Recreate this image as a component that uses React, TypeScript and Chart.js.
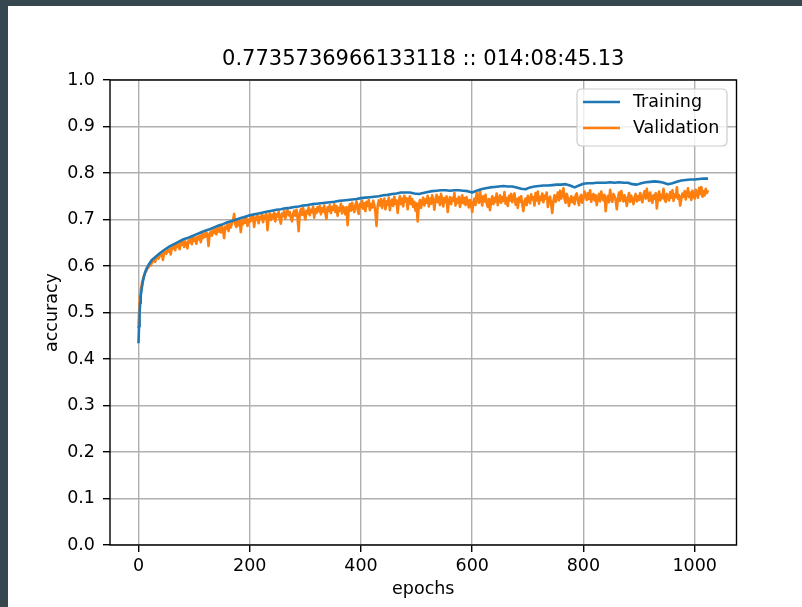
import React, { useEffect, useRef } from "react";
import { Chart, registerables } from "chart.js";

Chart.register(...registerables);

const TITLE = "0.7735736966133118 :: 014:08:45.13";
const X_LABEL = "epochs";
const Y_LABEL = "accuracy";
const X_TICKS = [0, 200, 400, 600, 800, 1000];
const Y_TICKS = [0, 0.1, 0.2, 0.3, 0.4, 0.5, 0.6, 0.7, 0.8, 0.9, 1.0];
const SERIES_NAMES = ["Training", "Validation"];
const SERIES_COLORS = ["#1f77b4", "#ff7f0e"];

// Training accuracy: early epochs listed explicitly, then every 8 epochs from epoch 32
const trainEarlyEpochs = [0, 1, 2, 3, 4, 6, 8, 10, 13, 16, 20, 24];
const trainEarlyAcc = [0.434, 0.47, 0.5, 0.52, 0.535, 0.553, 0.567, 0.578, 0.59, 0.598, 0.606, 0.613];
const trainStartEpoch = 32;
const trainStep = 8;
const trainAcc = [
  0.621, 0.629, 0.636, 0.642, 0.647, 0.652, 0.657, 0.66,
  0.664, 0.668, 0.672, 0.676, 0.679, 0.683, 0.687, 0.69,
  0.694, 0.697, 0.7, 0.703, 0.706, 0.709, 0.711, 0.713,
  0.715, 0.717, 0.719, 0.721, 0.722, 0.724, 0.725, 0.727,
  0.728, 0.73, 0.731, 0.733, 0.734, 0.735, 0.736, 0.737,
  0.738, 0.74, 0.741, 0.742, 0.743, 0.744, 0.746, 0.747,
  0.748, 0.749, 0.75, 0.752, 0.753, 0.755, 0.756, 0.758,
  0.758, 0.758, 0.756, 0.755, 0.757, 0.759, 0.761, 0.762,
  0.763, 0.763, 0.762, 0.763, 0.763, 0.762, 0.761, 0.758,
  0.762, 0.765, 0.767, 0.769, 0.77, 0.771, 0.772, 0.771,
  0.771, 0.769, 0.766, 0.765, 0.769, 0.771, 0.772, 0.773,
  0.773, 0.774, 0.775, 0.775, 0.776, 0.773, 0.769, 0.773,
  0.777, 0.778, 0.778, 0.779, 0.779, 0.779, 0.78, 0.779,
  0.78, 0.779, 0.779, 0.776, 0.775, 0.778, 0.78, 0.781,
  0.782, 0.781, 0.779, 0.776, 0.778, 0.781, 0.784, 0.785,
  0.786, 0.786, 0.787, 0.788, 0.788,
];

// Validation accuracy: early epochs explicitly, then every 2 epochs from epoch 24
const valEarlyEpochs = [0, 1, 2, 3, 4, 5, 6, 8, 10, 12, 14, 16, 18, 20, 22];
const valEarlyAcc = [0.467, 0.5, 0.522, 0.538, 0.548, 0.556, 0.562, 0.572, 0.579, 0.586, 0.589, 0.595, 0.597, 0.603, 0.601];
const valStartEpoch = 24;
const valStep = 2;
const valAcc = [
  0.607, 0.611, 0.614, 0.609, 0.618, 0.62, 0.616, 0.624, 0.622, 0.627, 0.613, 0.629, 0.631, 0.626, 0.634, 0.631, 0.637, 0.625, 0.64, 0.638, 0.643, 0.634, 0.645, 0.641, 0.647,
  0.636, 0.65, 0.646, 0.652, 0.641, 0.653, 0.648, 0.638, 0.655, 0.651, 0.658, 0.647, 0.66, 0.654, 0.661, 0.648, 0.663, 0.657, 0.665, 0.651, 0.668, 0.66, 0.67, 0.663, 0.672,
  0.666, 0.643, 0.67, 0.674, 0.665, 0.677, 0.671, 0.679, 0.668, 0.681, 0.674, 0.684, 0.672, 0.686, 0.678, 0.66, 0.685, 0.68, 0.689, 0.675, 0.69, 0.683, 0.692, 0.698, 0.712,
  0.69, 0.684, 0.696, 0.688, 0.698, 0.673, 0.697, 0.69, 0.701, 0.693, 0.703, 0.686, 0.7, 0.695, 0.705, 0.698, 0.707, 0.684, 0.704, 0.699, 0.709, 0.692, 0.706, 0.701, 0.711,
  0.694, 0.708, 0.702, 0.712, 0.677, 0.705, 0.713, 0.699, 0.71, 0.703, 0.715, 0.696, 0.711, 0.706, 0.717, 0.7, 0.691, 0.713, 0.707, 0.718, 0.702, 0.714, 0.72, 0.709, 0.716,
  0.704, 0.696, 0.712, 0.719, 0.708, 0.721, 0.703, 0.675, 0.714, 0.722, 0.71, 0.725, 0.712, 0.7, 0.719, 0.713, 0.726, 0.709, 0.721, 0.716, 0.728, 0.704, 0.722, 0.714, 0.727,
  0.718, 0.729, 0.711, 0.724, 0.717, 0.73, 0.713, 0.701, 0.726, 0.719, 0.731, 0.714, 0.727, 0.721, 0.733, 0.716, 0.729, 0.708, 0.725, 0.719, 0.734, 0.713, 0.728, 0.722, 0.711,
  0.727, 0.688, 0.722, 0.733, 0.719, 0.736, 0.724, 0.716, 0.731, 0.739, 0.721, 0.712, 0.734, 0.727, 0.74, 0.723, 0.735, 0.718, 0.738, 0.729, 0.742, 0.72, 0.733, 0.726, 0.74,
  0.731, 0.716, 0.686, 0.728, 0.741, 0.73, 0.744, 0.725, 0.737, 0.745, 0.722, 0.739, 0.732, 0.747, 0.72, 0.736, 0.743, 0.729, 0.749, 0.734, 0.741, 0.714, 0.738, 0.75, 0.733,
  0.745, 0.728, 0.751, 0.739, 0.746, 0.722, 0.741, 0.75, 0.733, 0.744, 0.727, 0.738, 0.719, 0.735, 0.696, 0.731, 0.742, 0.725, 0.738, 0.747, 0.73, 0.743, 0.736, 0.751, 0.728,
  0.745, 0.734, 0.752, 0.74, 0.721, 0.744, 0.753, 0.737, 0.748, 0.731, 0.755, 0.742, 0.728, 0.746, 0.737, 0.75, 0.716, 0.739, 0.748, 0.733, 0.746, 0.74, 0.757, 0.73, 0.744,
  0.736, 0.749, 0.727, 0.741, 0.752, 0.735, 0.746, 0.731, 0.748, 0.738, 0.726, 0.742, 0.733, 0.716, 0.737, 0.745, 0.731, 0.757, 0.742, 0.736, 0.763, 0.744, 0.73, 0.75, 0.739,
  0.753, 0.735, 0.727, 0.744, 0.72, 0.739, 0.75, 0.733, 0.746, 0.738, 0.756, 0.731, 0.745, 0.752, 0.736, 0.748, 0.74, 0.759, 0.734, 0.746, 0.729, 0.751, 0.741, 0.755, 0.737,
  0.749, 0.756, 0.732, 0.744, 0.725, 0.747, 0.738, 0.75, 0.733, 0.718, 0.739, 0.745, 0.731, 0.751, 0.74, 0.735, 0.754, 0.743, 0.748, 0.73, 0.757, 0.741, 0.76, 0.734, 0.749,
  0.742, 0.756, 0.737, 0.751, 0.745, 0.758, 0.727, 0.744, 0.749, 0.732, 0.714, 0.74, 0.752, 0.738, 0.746, 0.758, 0.741, 0.762, 0.745, 0.753, 0.767, 0.744, 0.736, 0.755, 0.746,
  0.729, 0.741, 0.75, 0.737, 0.747, 0.733, 0.752, 0.756, 0.74, 0.731, 0.748, 0.753, 0.736, 0.745, 0.76, 0.75, 0.742, 0.757, 0.744, 0.763, 0.738, 0.749, 0.755, 0.741, 0.752,
  0.731, 0.746, 0.755, 0.739, 0.76, 0.748, 0.741, 0.753, 0.718, 0.744, 0.751, 0.737, 0.764, 0.746, 0.738, 0.755, 0.749, 0.742, 0.722, 0.745, 0.758, 0.74, 0.761, 0.75, 0.739,
  0.752, 0.744, 0.729, 0.747, 0.757, 0.738, 0.751, 0.743, 0.733, 0.748, 0.755, 0.739, 0.75, 0.742, 0.757, 0.746, 0.737, 0.754, 0.761, 0.745, 0.766, 0.749, 0.74, 0.758, 0.744,
  0.736, 0.752, 0.745, 0.757, 0.724, 0.748, 0.76, 0.741, 0.753, 0.746, 0.766, 0.743, 0.738, 0.755, 0.749, 0.741, 0.759, 0.747, 0.763, 0.74, 0.754, 0.748, 0.769, 0.745, 0.752,
  0.73, 0.744, 0.756, 0.749, 0.761, 0.743, 0.755, 0.767, 0.748, 0.758, 0.742, 0.762, 0.751, 0.745, 0.764, 0.753, 0.747, 0.768, 0.755, 0.77, 0.749, 0.761, 0.752, 0.766, 0.757, 0.763,
];

const FONT = "'DejaVu Sans', sans-serif";
const W = 802;
const H = 607;

function buildPoints(earlyEpochs: number[], earlyAcc: number[], start: number, step: number, acc: number[]) {
  const pts = earlyEpochs.map((e, i) => ({ x: e, y: earlyAcc[i] }));
  acc.forEach((v, i) => pts.push({ x: start + i * step, y: v }));
  return pts;
}

const decorPlugin = {
  id: "decor",
  beforeDraw(chart: any) {
    const ctx = chart.ctx;
    ctx.save();
    ctx.fillStyle = "#36474f";
    ctx.fillRect(0, 0, W, H);
    ctx.fillStyle = "#ffffff";
    ctx.fillRect(8, 6, W - 8, H - 6);
    ctx.restore();
  },
  afterDatasetsDraw(chart: any) {
    const ctx = chart.ctx;
    const a = chart.chartArea;
    ctx.save();
    ctx.strokeStyle = "#000";
    ctx.lineWidth = 1.4;
    ctx.strokeRect(a.left, a.top, a.right - a.left, a.bottom - a.top);
    const lx = 577, ly = 89, lw = 150, lh = 57, r = 5;
    ctx.beginPath();
    ctx.moveTo(lx + r, ly);
    ctx.lineTo(lx + lw - r, ly);
    ctx.quadraticCurveTo(lx + lw, ly, lx + lw, ly + r);
    ctx.lineTo(lx + lw, ly + lh - r);
    ctx.quadraticCurveTo(lx + lw, ly + lh, lx + lw - r, ly + lh);
    ctx.lineTo(lx + r, ly + lh);
    ctx.quadraticCurveTo(lx, ly + lh, lx, ly + lh - r);
    ctx.lineTo(lx, ly + r);
    ctx.quadraticCurveTo(lx, ly, lx + r, ly);
    ctx.closePath();
    ctx.fillStyle = "rgba(255,255,255,0.8)";
    ctx.fill();
    ctx.strokeStyle = "#cccccc";
    ctx.lineWidth = 1.2;
    ctx.stroke();
    const rows = [102, 128];
    chart.data.datasets.forEach((ds: any, i: number) => {
      const y = rows[i];
      ctx.strokeStyle = ds.borderColor;
      ctx.lineWidth = 2.6;
      ctx.beginPath();
      ctx.moveTo(583, y);
      ctx.lineTo(620, y);
      ctx.stroke();
      ctx.fillStyle = "#000";
      ctx.font = `17.5px ${FONT}`;
      ctx.textAlign = "left";
      ctx.textBaseline = "middle";
      ctx.fillText(ds.label, 633, y);
    });
    ctx.restore();
  },
  afterDraw(chart: any) {
    const ctx = chart.ctx;
    const a = chart.chartArea;
    ctx.save();
    ctx.fillStyle = "#000";
    ctx.font = `21px ${FONT}`;
    ctx.textAlign = "center";
    ctx.textBaseline = "middle";
    ctx.fillText(TITLE, (a.left + a.right) / 2, 60);
    ctx.restore();
  },
};

export default function App() {
  const ref = useRef<HTMLCanvasElement | null>(null);
  useEffect(() => {
    if (!ref.current) return;
    const trainPts = buildPoints(trainEarlyEpochs, trainEarlyAcc, trainStartEpoch, trainStep, trainAcc);
    const valPts = buildPoints(valEarlyEpochs, valEarlyAcc, valStartEpoch, valStep, valAcc);
    const tickFont = { family: FONT, size: 17.5 };
    const lineStyle = { borderWidth: 2.6, pointRadius: 0, tension: 0, fill: false, borderJoinStyle: "round", borderCapStyle: "butt" };
    const chart = new Chart(ref.current, {
      type: "line",
      data: {
        datasets: [
          { label: SERIES_NAMES[0], data: trainPts, borderColor: SERIES_COLORS[0], backgroundColor: SERIES_COLORS[0], ...lineStyle },
          { label: SERIES_NAMES[1], data: valPts, borderColor: SERIES_COLORS[1], backgroundColor: SERIES_COLORS[1], ...lineStyle },
        ],
      },
      options: {
        animation: false,
        responsive: false,
        devicePixelRatio: 1,
        parsing: false as any,
        normalized: true,
        layout: { padding: { top: 80, right: 65.5, bottom: 0, left: 0 } },
        plugins: { legend: { display: false }, title: { display: false }, tooltip: { enabled: false } },
        scales: {
          x: {
            type: "linear",
            min: -51.2,
            max: 1075.2,
            afterBuildTicks: (s: any) => { s.ticks = X_TICKS.map((v) => ({ value: v })); },
            afterFit: (s: any) => { s.height = 62; },
            ticks: { font: tickFont, color: "#000", padding: 3.5, maxRotation: 0, autoSkip: false, callback: (v: any) => String(v) },
            grid: { color: "#b0b0b0", lineWidth: 1.4, tickLength: 7, tickColor: "#000", tickWidth: 1.4 },
            border: { display: false },
            title: { display: true, text: X_LABEL, font: tickFont, color: "#000", padding: { top: 0, bottom: 7.5 } },
          },
          y: {
            type: "linear",
            min: 0,
            max: 1,
            afterBuildTicks: (s: any) => { s.ticks = Y_TICKS.map((v) => ({ value: v })); },
            afterFit: (s: any) => { s.width = 110; },
            ticks: { font: tickFont, color: "#000", padding: 8, autoSkip: false, callback: (v: any) => Number(v).toFixed(1) },
            grid: { color: "#b0b0b0", lineWidth: 1.4, tickLength: 7, tickColor: "#000", tickWidth: 1.4 },
            border: { display: false },
            title: { display: true, text: Y_LABEL, font: tickFont, color: "#000", padding: { top: 41.5, bottom: 0 } },
          },
        },
      },
      plugins: [decorPlugin],
    } as any);
    return () => chart.destroy();
  }, []);
  return (
    <div style={{ position: "fixed", left: 0, top: 0, width: W, height: H, background: "#36474f" }}>
      <canvas ref={ref} width={W} height={H} style={{ display: "block", width: W, height: H }} />
    </div>
  );
}
